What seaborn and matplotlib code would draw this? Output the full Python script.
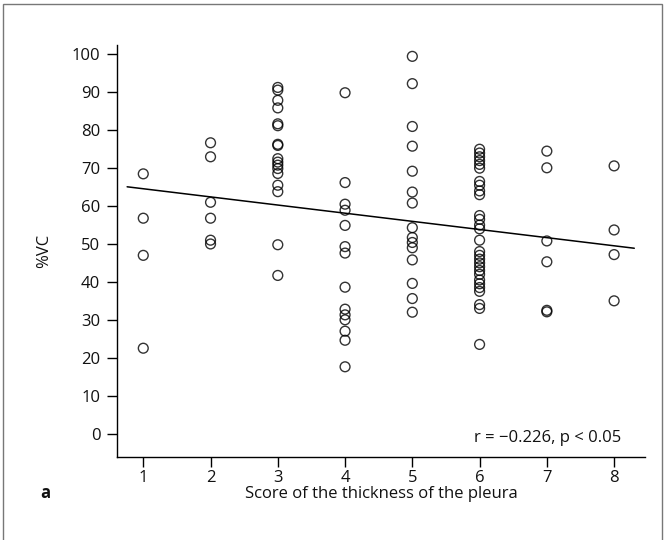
import numpy as np
import pandas as pd
import matplotlib
matplotlib.use("Agg")
import matplotlib.pyplot as plt
import seaborn as sns
from matplotlib.patches import Rectangle

score1 = [68.5, 56.8, 47.0, 22.5]
score2 = [76.7, 73.0, 61.0, 56.8, 51.0, 50.0]
score3 = [91.3, 90.6, 87.9, 85.9, 81.7, 81.2, 76.3, 76.0, 72.5, 71.6,
          70.8, 69.9, 68.6, 65.5, 63.8, 49.8, 41.7]
score4 = [89.9, 66.2, 60.5, 58.9, 54.9, 49.3, 47.6, 38.6, 32.8, 31.3,
          30.0, 27.0, 24.6, 17.6]
score5 = [99.5, 92.3, 81.0, 75.8, 69.2, 63.7, 60.8, 54.3, 51.7, 50.4,
          49.0, 45.8, 39.6, 35.6, 32.0]
score6 = [75.0, 74.0, 73.0, 72.0, 71.0, 70.0, 66.5, 65.5, 64.0, 63.0,
          57.5, 56.5, 55.0, 54.0, 51.0, 48.0, 47.0, 46.0, 45.0, 44.0,
          43.0, 42.0, 40.5, 39.5, 38.5, 37.5, 34.0, 33.0, 23.5]
score7 = [74.5, 70.1, 50.8, 45.3, 32.5, 32.1]
score8 = [70.6, 53.7, 47.2, 35.0]

groups = [score1, score2, score3, score4, score5, score6, score7, score8]
scores = [1, 2, 3, 4, 5, 6, 7, 8]
x_ticks = [1, 2, 3, 4, 5, 6, 7, 8]
y_ticks = [0, 10, 20, 30, 40, 50, 60, 70, 80, 90, 100]
annotation = "r = \u22120.226, p < 0.05"
x_label = "Score of the thickness of the pleura"
y_label = "%VC"
panel = "a"

rows = []
for s, vals in zip(scores, groups):
    for v in vals:
        rows.append((s, v))
df = pd.DataFrame(rows, columns=["score", "vc"])

sns.set_style("white")
plt.rcParams['font.family'] = ['Open Sans', 'DejaVu Sans']

fig = plt.figure(figsize=(6.65, 5.4), dpi=100)
ax = fig.add_axes([0.176, 0.1537, 0.794, 0.763])

# limit fit line extent as in the reference
ax.set_xlim(0.76, 8.3)
sns.regplot(data=df, x="score", y="vc", ax=ax, ci=None, truncate=False,
            scatter_kws=dict(s=50, facecolors="none", edgecolors="black",
                             linewidths=1.0),
            line_kws=dict(color="black", linewidth=1.1))

ax.set_xlim(0.61, 8.46)
ax.set_ylim(-6.2, 102.5)
ax.set_xticks(x_ticks)
ax.set_yticks(y_ticks)
ax.tick_params(axis="both", direction="out", width=1,
               color="black", labelsize=12, labelcolor="#111111",
               left=True, bottom=True)
ax.tick_params(axis="x", length=7, pad=2)
ax.tick_params(axis="y", length=7, pad=5)
for side in ["top", "right"]:
    ax.spines[side].set_visible(False)
for side in ["left", "bottom"]:
    ax.spines[side].set_color("black")
    ax.spines[side].set_linewidth(1.0)

ax.set_xlabel(x_label, fontsize=12, color="#111111", labelpad=0)
ax.set_ylabel(y_label, fontsize=12, color="#111111", labelpad=14)

ax.text(0.955, 0.045, annotation, transform=ax.transAxes, ha="right",
        va="center", fontsize=12, color="#111111")
fig.text(0.068, 0.087, panel, fontsize=12, fontweight="bold",
         color="#111111", ha="center", va="center")

fig.patches.append(Rectangle((0.005, -0.05), 0.99, 1.043, transform=fig.transFigure,
                             fill=False, edgecolor="#777777", linewidth=1.0))

fig.savefig("out.png", dpi=100)
